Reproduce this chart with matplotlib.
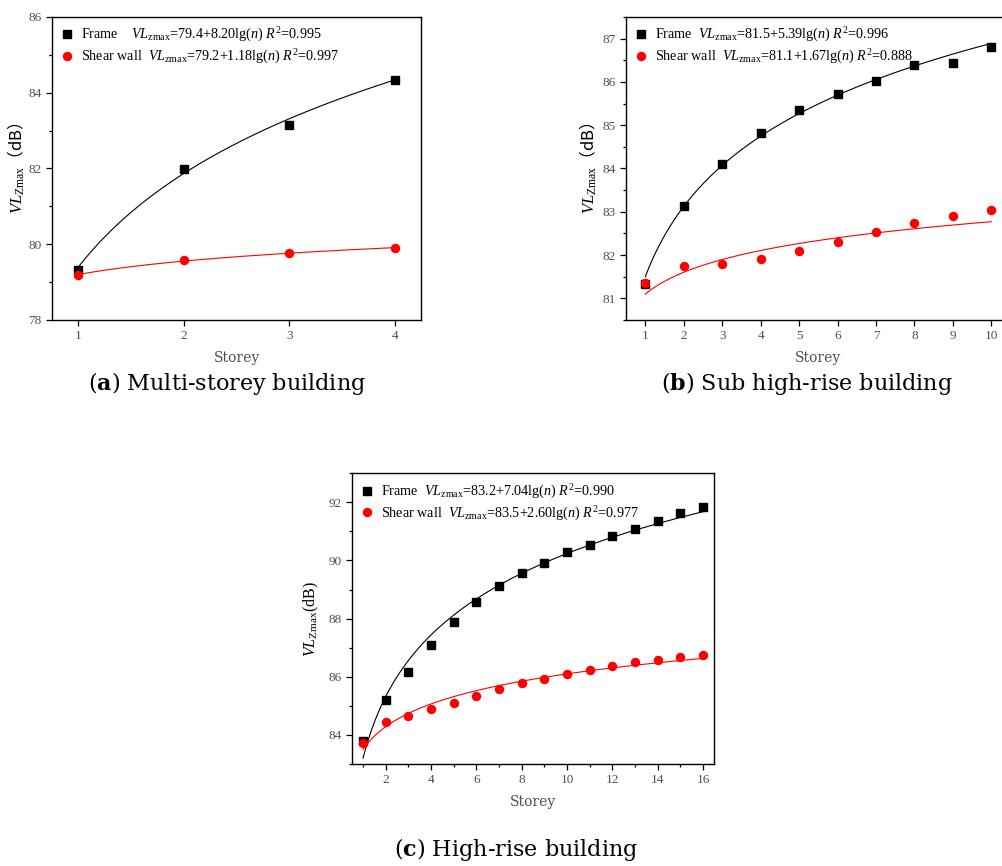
import numpy as np
import matplotlib.pyplot as plt
from matplotlib.lines import Line2D
from matplotlib.ticker import MultipleLocator

plt.rcParams['font.family'] = ['Liberation Serif', 'Noto Sans CJK SC', 'DejaVu Sans']
plt.rcParams['mathtext.fontset'] = 'custom'
plt.rcParams['mathtext.rm'] = 'Liberation Serif'
plt.rcParams['mathtext.it'] = 'Liberation Serif:italic'
plt.rcParams['mathtext.bf'] = 'DejaVu Serif:bold'
plt.rcParams['mathtext.sf'] = 'Noto Sans CJK SC'

# (a) multi-storey
storey_a = [1, 2, 3, 4]
frame_a = [79.32, 81.99, 83.15, 84.33]
shear_a = [79.20, 79.58, 79.76, 79.90]
fit_a = {"frame": (79.4, 8.20, 0.995), "shear": (79.2, 1.18, 0.997)}

# (b) sub high-rise
storey_b = list(range(1, 11))
frame_b = [81.33, 83.13, 84.10, 84.81, 85.35, 85.71, 86.02, 86.38, 86.44, 86.81]
shear_b = [81.35, 81.74, 81.79, 81.91, 82.09, 82.30, 82.53, 82.74, 82.91, 83.03]
fit_b = {"frame": (81.5, 5.39, 0.996), "shear": (81.1, 1.67, 0.888)}

# (c) high-rise
storey_c = list(range(1, 17))
frame_c = [83.80, 85.19, 86.15, 87.10, 87.89, 88.57, 89.12, 89.57,
           89.93, 90.30, 90.54, 90.85, 91.09, 91.36, 91.63, 91.84]
shear_c = [83.71, 84.44, 84.64, 84.88, 85.11, 85.35, 85.57, 85.77,
           85.94, 86.10, 86.24, 86.36, 86.50, 86.59, 86.69, 86.74]
fit_c = {"frame": (83.2, 7.04, 0.990), "shear": (83.5, 2.60, 0.977)}

TICK_GREY = "#505050"


def fit_label(name, coef, gap):
    a, b, r2 = coef
    return (name + gap + r"$VL_{\mathrm{zmax}}$=" + f"{a:.1f}+{b:.2f}" +
            r"lg($n$) $R^2$=" + f"{r2:.3f}")


def draw_panel(ax, x, frame, shear, fit, gap_frame):
    xs = np.linspace(x[0], x[-1], 200)
    for key, color in (("frame", "black"), ("shear", "red")):
        a, b, _ = fit[key]
        ax.plot(xs, a + b * np.log10(xs), color=color, lw=0.8, zorder=2)
    ax.plot(x, frame, "s", color="black", ms=5.4, zorder=3)
    ax.plot(x, shear, "o", color="red", ms=5.8, zorder=3)

    handles = [
        Line2D([], [], ls="none", marker="s", color="black", ms=5.4),
        Line2D([], [], ls="none", marker="o", color="red", ms=5.8),
    ]
    labels = [fit_label("Frame", fit["frame"], gap_frame),
              fit_label("Shear wall", fit["shear"], "  ")]
    ax.legend(handles, labels, loc="upper left", frameon=False,
              fontsize=10.2, handlelength=0.8, handletextpad=0.6,
              labelspacing=0.25, borderaxespad=0.3, borderpad=0.35)

    ax.tick_params(which="both", direction="out", colors="black",
                   labelcolor=TICK_GREY, labelsize=9.5, width=0.9)
    ax.tick_params(which="major", length=4)
    ax.tick_params(which="minor", length=2.2)
    for s in ax.spines.values():
        s.set_linewidth(1.0)
    ax.set_xlabel("Storey", family="DejaVu Serif", fontsize=10,
                  color=TICK_GREY, labelpad=6)


fig = plt.figure(figsize=(10.02, 8.66), dpi=100)

ylabel_fw = r"$VL_{\mathrm{Zmax}}\mathsf{（dB）}$"

ax_a = fig.add_axes([0.0519, 0.6305, 0.3683, 0.3499])
draw_panel(ax_a, storey_a, frame_a, shear_a, fit_a, "    ")
ax_a.set_xlim(0.75, 4.25)
ax_a.set_ylim(78, 86)
ax_a.set_xticks(storey_a)
ax_a.yaxis.set_major_locator(MultipleLocator(2))
ax_a.yaxis.set_minor_locator(MultipleLocator(1))
ax_a.set_ylabel(ylabel_fw, fontsize=12, labelpad=1)

ax_b = fig.add_axes([0.6248, 0.6305, 0.3837, 0.3499])
draw_panel(ax_b, storey_b, frame_b, shear_b, fit_b, "  ")
ax_b.set_xlim(0.5, 10.5)
ax_b.set_ylim(80.5, 87.5)
ax_b.set_xticks(storey_b)
ax_b.yaxis.set_major_locator(MultipleLocator(1))
ax_b.yaxis.set_minor_locator(MultipleLocator(0.5))
ax_b.set_ylabel(ylabel_fw, fontsize=12, labelpad=2)

ax_c = fig.add_axes([0.3510, 0.1178, 0.3619, 0.3357])
draw_panel(ax_c, storey_c, frame_c, shear_c, fit_c, "  ")
ax_c.set_xlim(0.5, 16.5)
ax_c.set_ylim(83, 93)
ax_c.xaxis.set_major_locator(MultipleLocator(2))
ax_c.xaxis.set_minor_locator(MultipleLocator(1))
ax_c.yaxis.set_major_locator(MultipleLocator(2))
ax_c.yaxis.set_minor_locator(MultipleLocator(1))
ax_c.set_ylabel(r"$VL_{\mathrm{Zmax}}$(dB)", fontsize=11.5, labelpad=5)

captions = [(0.227, 0.541, "a", "Multi-storey building"),
            (0.805, 0.541, "b", "Sub high-rise building"),
            (0.515, 0.004, "c", "High-rise building")]
for cx, cy, letter, text in captions:
    fig.text(cx, cy, r"($\mathbf{" + letter + r"}$) " + text,
             ha="center", va="bottom", fontsize=16, family="DejaVu Serif")

fig.savefig("out.png", dpi=100)
